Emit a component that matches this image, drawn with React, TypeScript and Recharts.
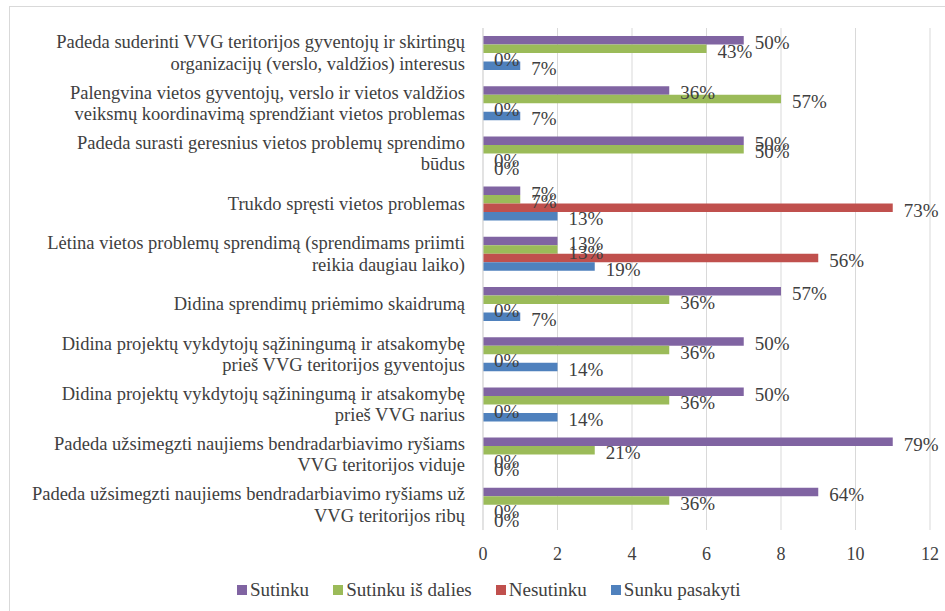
import { BarChart, Bar, XAxis, YAxis, CartesianGrid, LabelList } from 'recharts';

const categories = [
  'Padeda suderinti VVG teritorijos gyventojų ir skirtingų\norganizacijų (verslo, valdžios) interesus',
  'Palengvina vietos gyventojų, verslo ir vietos valdžios\nveiksmų koordinavimą sprendžiant vietos problemas',
  'Padeda surasti geresnius vietos problemų sprendimo\nbūdus',
  'Trukdo spręsti vietos problemas',
  'Lėtina vietos problemų sprendimą (sprendimams priimti\nreikia daugiau laiko)',
  'Didina sprendimų priėmimo skaidrumą',
  'Didina projektų vykdytojų sąžiningumą ir atsakomybę\nprieš VVG teritorijos gyventojus',
  'Didina projektų vykdytojų sąžiningumą ir atsakomybę\nprieš VVG narius',
  'Padeda užsimegzti naujiems bendradarbiavimo ryšiams\nVVG teritorijos viduje',
  'Padeda užsimegzti naujiems bendradarbiavimo ryšiams už\nVVG teritorijos ribų',
];

const sutinku = [7, 5, 7, 1, 2, 8, 7, 7, 11, 9];
const sutinkuIsDalies = [6, 8, 7, 1, 2, 5, 5, 5, 3, 5];
const nesutinku = [0, 0, 0, 11, 9, 0, 0, 0, 0, 0];
const sunkuPasakyti = [1, 1, 0, 2, 3, 1, 2, 2, 0, 0];

const sutinkuPct = ['50%', '36%', '50%', '7%', '13%', '57%', '50%', '50%', '79%', '64%'];
const sutinkuIsDaliesPct = ['43%', '57%', '50%', '7%', '13%', '36%', '36%', '36%', '21%', '36%'];
const nesutinkuPct = ['0%', '0%', '0%', '73%', '56%', '0%', '0%', '0%', '0%', '0%'];
const sunkuPasakytiPct = ['7%', '7%', '0%', '13%', '19%', '7%', '14%', '14%', '0%', '0%'];

const xTicks = [0, 2, 4, 6, 8, 10, 12];

const series = [
  { key: 'sutinku', pct: 'sutinkuPct', name: 'Sutinku', color: '#8064A2' },
  { key: 'sutinkuIsDalies', pct: 'sutinkuIsDaliesPct', name: 'Sutinku iš dalies', color: '#9BBB59' },
  { key: 'nesutinku', pct: 'nesutinkuPct', name: 'Nesutinku', color: '#C0504D' },
  { key: 'sunkuPasakyti', pct: 'sunkuPasakytiPct', name: 'Sunku pasakyti', color: '#4F81BD' },
];

const data = categories.map((name, i) => ({
  name,
  sutinku: sutinku[i],
  sutinkuIsDalies: sutinkuIsDalies[i],
  nesutinku: nesutinku[i],
  sunkuPasakyti: sunkuPasakyti[i],
  sutinkuPct: sutinkuPct[i],
  sutinkuIsDaliesPct: sutinkuIsDaliesPct[i],
  nesutinkuPct: nesutinkuPct[i],
  sunkuPasakytiPct: sunkuPasakytiPct[i],
}));

const FONT = "'Liberation Serif', 'Times New Roman', serif";
const TEXT = '#404040';

// zero bars get a hair-thin width so their "0%" labels still render
const zeroMin = (value: any) => (value === 0 ? 0.01 : 0);

function CategoryTick({ x, y, payload }: any) {
  const lines = String(payload.value).split('\n');
  const lh = 21.5;
  const start = y - ((lines.length - 1) * lh) / 2;
  return (
    <text x={x - 10} y={start} textAnchor="end" fill={TEXT} fontSize={18.5} fontFamily={FONT}>
      {lines.map((l, i) => (
        <tspan key={i} x={x - 10} y={start + i * lh} dominantBaseline="central">
          {l}
        </tspan>
      ))}
    </text>
  );
}

function ValueTick({ x, y, payload }: any) {
  return (
    <text x={x} y={y + 16} textAnchor="middle" dominantBaseline="central" fill={TEXT} fontSize={18} fontFamily={FONT}>
      {payload.value}
    </text>
  );
}

function PctLabel(props: any) {
  const vb = props.viewBox || {};
  const x = props.x ?? vb.x;
  const y = props.y ?? vb.y;
  const width = props.width ?? vb.width ?? 0;
  const height = props.height ?? vb.height ?? 0;
  return (
    <text
      x={x + width + 11}
      y={y + height / 2 + 2.5}
      dominantBaseline="central"
      fill={TEXT}
      fontSize={19}
      fontFamily={FONT}
    >
      {props.value}
    </text>
  );
}

export default function App() {
  return (
    <div style={{ position: 'absolute', left: 0, top: 0, width: 945, height: 611, overflow: 'hidden', background: '#fff' }}>
      <div
        style={{
          position: 'absolute',
          left: 9,
          top: 6,
          width: 960,
          height: 640,
          border: '1px solid #d9d9d9',
        }}
      />
      <div style={{ position: 'absolute', left: 0, top: 0 }}>
        <BarChart
          width={945}
          height={611}
          data={data}
          layout="vertical"
          margin={{ top: 28, right: 15, bottom: 51, left: 10 }}
          barSize={8.5}
          barGap={0}
        >
          <CartesianGrid horizontal={false} stroke="#d9d9d9" />
          <XAxis
            type="number"
            domain={[0, 12]}
            ticks={xTicks}
            axisLine={false}
            tickLine={false}
            height={30}
            tick={<ValueTick />}
            interval={0}
          />
          <YAxis
            type="category"
            dataKey="name"
            width={473}
            axisLine={{ stroke: '#d9d9d9' }}
            tickLine={false}
            tick={<CategoryTick />}
            interval={0}
          />
          {series.map((s) => (
            <Bar
              key={s.key}
              dataKey={s.key}
              name={s.name}
              fill={s.color}
              minPointSize={zeroMin}
              isAnimationActive={false}
            >
              <LabelList dataKey={s.pct} content={<PctLabel />} />
            </Bar>
          ))}
        </BarChart>
      </div>
      <div
        style={{
          position: 'absolute',
          left: 237,
          top: 578,
          height: 24,
          display: 'flex',
          alignItems: 'center',
          fontFamily: FONT,
          fontSize: 19,
          color: TEXT,
          whiteSpace: 'nowrap',
        }}
      >
        {series.map((s) => (
          <div key={s.key} style={{ display: 'flex', alignItems: 'center', marginRight: 24 }}>
            <span style={{ width: 10, height: 10, background: s.color, display: 'inline-block', marginRight: 3 }} />
            <span>{s.name}</span>
          </div>
        ))}
      </div>
    </div>
  );
}
